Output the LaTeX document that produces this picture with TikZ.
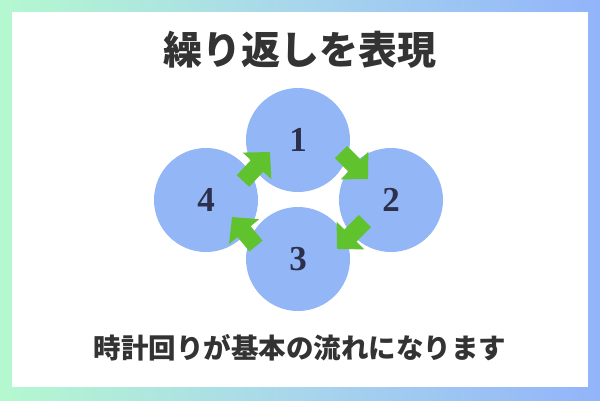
\documentclass[tikz,border=0pt]{standalone}
\usepackage{fontspec}
\setmainfont{Liberation Serif}
\newfontfamily\cjk{Noto Sans CJK JP}
\usetikzlibrary{arrows.meta,calc}
\definecolor{bgleft}{RGB}{180,248,208}
\definecolor{bgmid}{RGB}{168,214,236}
\definecolor{bgright}{RGB}{146,180,250}
\definecolor{circ}{RGB}{147,182,246}
\definecolor{numcol}{RGB}{44,48,74}
\definecolor{arrowgreen}{RGB}{96,194,44}
\definecolor{txt}{RGB}{51,51,51}
\begin{document}
\begin{tikzpicture}[x=1pt,y=-1pt,
  cyc/.style={circle,fill=circ,minimum size=104pt,inner sep=0pt,text=numcol,font=\bfseries\fontsize{35}{35}\selectfont},
  flow/.style={draw=arrowgreen,line width=17pt,-{Triangle[width=38pt,length=19pt]}},
  title/.style={text=txt,font=\cjk\bfseries\fontsize{39}{39}\selectfont,inner sep=0pt},
  caption/.style={text=txt,font=\cjk\bfseries\fontsize{27.5}{27.5}\selectfont,inner sep=0pt}]
\useasboundingbox (0,0) rectangle (600,400);
\shade[left color=bgleft,right color=bgright,middle color=bgmid] (0,0) rectangle (600,400);
\fill[white] (12,12) rectangle (588,387);
\node[title] (ttl) at (300,50) {繰り返しを表現};
\node[caption] (cap) at (300,348) {時計回りが基本の流れになります};
\node[cyc] (c1) at (298,140) {1};
\node[cyc] (c2) at (391,200) {2};
\node[cyc] (c3) at (298,259) {3};
\node[cyc] (c4) at (206,200) {4};
\coordinate (t41) at ($(c4)+(37,-19)$);
\coordinate (h41) at ($(c1)+(-28,12)$);
\coordinate (t12) at ($(c1)+(43,12)$);
\coordinate (h12) at ($(c2)+(-23,-21)$);
\coordinate (t23) at ($(c2)+(-26,21)$);
\coordinate (h23) at ($(c3)+(39,-10)$);
\coordinate (t34) at ($(c3)+(-42,-13)$);
\coordinate (h34) at ($(c4)+(26,17)$);
\draw[flow] (t41) -- (h41);
\draw[flow] (t12) -- (h12);
\draw[flow] (t23) -- (h23);
\draw[flow] (t34) -- (h34);
\end{tikzpicture}
\end{document}
